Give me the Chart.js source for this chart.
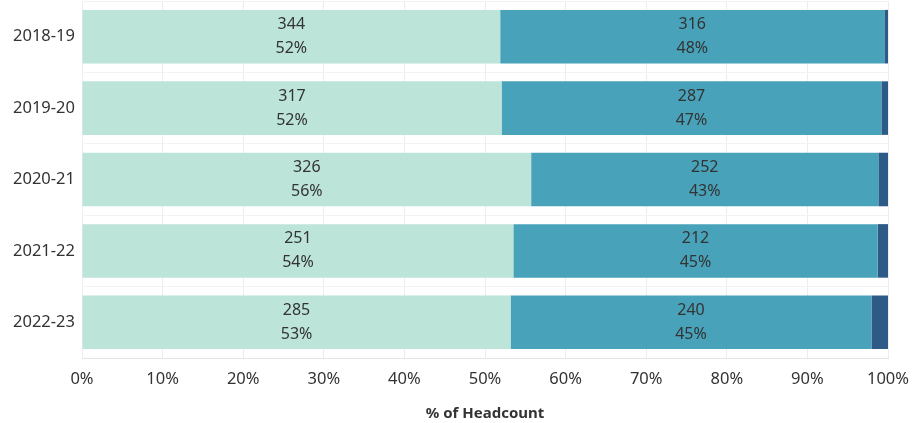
<!DOCTYPE html>
<html>
<head>
<meta charset="utf-8">
<script src="https://cdn.jsdelivr.net/npm/chart.js@4/dist/chart.umd.min.js"></script>
<style>
  html, body { margin: 0; padding: 0; background: #fff; }
  #wrap { width: 913px; height: 423px; position: relative; }
</style>
</head>
<body>
<div id="wrap"><canvas id="chart"></canvas></div>
<script>
const years = ["2018-19", "2019-20", "2020-21", "2021-22", "2022-23"];
const groupA = [344, 317, 326, 251, 285];
const groupB = [316, 287, 252, 212, 240];
const groupC = [3, 5, 7, 6, 11];
const xTicks = [0, 10, 20, 30, 40, 50, 60, 70, 80, 90, 100];

const totals = years.map((y, i) => groupA[i] + groupB[i] + groupC[i]);
const pct = arr => arr.map((v, i) => v / totals[i] * 100);
const counts = [groupA, groupB, groupC];

const FONT = "'Noto Sans', sans-serif";

// draw count + percent inside the two big segments
const segLabels = {
    id: "segLabels",
    afterDatasetsDraw(chart) {
        const ctx = chart.ctx;
        ctx.save();
        ctx.font = "16px " + FONT;
        ctx.fillStyle = "#333";
        ctx.textAlign = "center";
        ctx.textBaseline = "middle";
        for (let d = 0; d < 2; d++) {
            chart.getDatasetMeta(d).data.forEach((bar, i) => {
                const cx = (bar.x + bar.base) / 2;
                const p = Math.round(chart.data.datasets[d].data[i]);
                ctx.fillText(String(counts[d][i]), cx, bar.y - 12);
                ctx.fillText(p + "%", cx, bar.y + 12);
            });
        }
        ctx.restore();
    }
};

new Chart(document.getElementById("chart"), {
    type: "bar",
    data: {
        labels: years,
        datasets: [
            { data: pct(groupA), backgroundColor: "#bce4d9" },
            { data: pct(groupB), backgroundColor: "#48a2b9" },
            { data: pct(groupC), backgroundColor: "#2e5a87" }
        ]
    },
    options: {
        indexAxis: "y",
        responsive: true,
        maintainAspectRatio: false,
        animation: false,
        layout: { padding: { top: 1, right: 25, left: 0, bottom: 0 } },
        datasets: { bar: { categoryPercentage: 0.75, barPercentage: 1 } },
        plugins: { legend: { display: false }, tooltip: { enabled: false } },
        scales: {
            x: {
                stacked: true,
                min: 0,
                max: 100,
                afterBuildTicks: s => { s.ticks = xTicks.map(v => ({ value: v })); },
                ticks: {
                    callback: v => v + "%",
                    font: { family: FONT, size: 16.5 },
                    color: "#333",
                    padding: 11,
                    maxRotation: 0
                },
                grid: { color: "#ededed", drawTicks: false },
                border: { display: true, color: "#e4e4e4" },
                title: {
                    display: true,
                    text: "% of Headcount",
                    font: { family: FONT, size: 15, weight: "bold" },
                    color: "#333",
                    padding: { top: 9, bottom: 0 }
                },
                afterFit: s => { s.height = 65; s.paddingLeft = 0; s.paddingRight = 0; }
            },
            y: {
                stacked: true,
                ticks: {
                    font: { family: FONT, size: 16.5 },
                    color: "#333",
                    padding: 7
                },
                grid: { color: "#f3f3f3", offset: true, drawTicks: false },
                border: { display: false },
                afterFit: s => { s.width = 82; s.paddingTop = 0; s.paddingBottom = 0; }
            }
        }
    },
    plugins: [segLabels]
});
</script>
</body>
</html>
